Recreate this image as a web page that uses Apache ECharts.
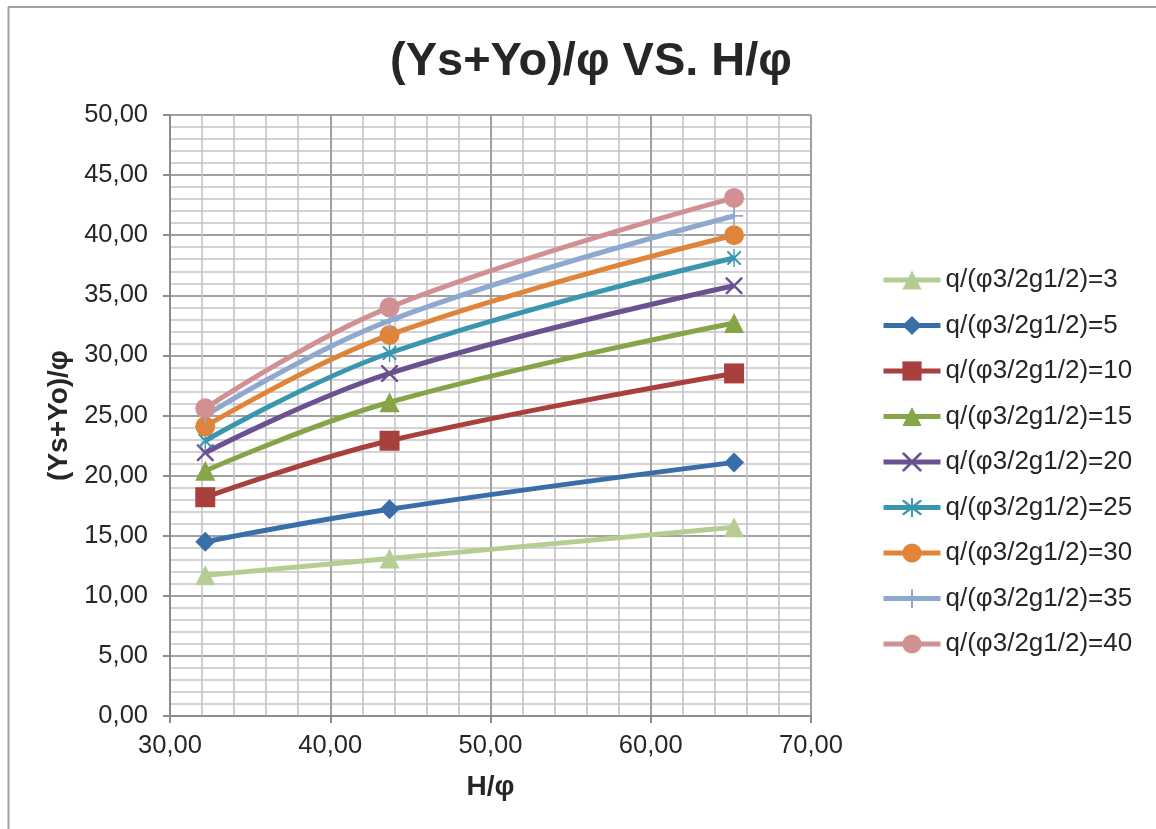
<!DOCTYPE html>
<html>
<head>
<meta charset="utf-8">
<script src="https://cdn.jsdelivr.net/npm/echarts@6/dist/echarts.min.js"></script>
<style>
  html, body { margin: 0; padding: 0; background: #fff; }
  #chart { width: 1156px; height: 829px; }
</style>
</head>
<body>
<div id="chart"></div>
<script>
// H/φ at which the three measurements were taken
const hPhi = [32.2, 43.7, 65.2];

// (Ys+Yo)/φ for each discharge parameter q/(φ3/2g1/2)
const q3  = [11.7, 13.1, 15.7];
const q5  = [14.5, 17.2, 21.1];
const q10 = [18.2, 22.9, 28.5];
const q15 = [20.4, 26.1, 32.7];
const q20 = [21.9, 28.5, 35.8];
const q25 = [22.9, 30.2, 38.1];
const q30 = [24.1, 31.7, 40.0];
const q35 = [25.0, 32.9, 41.6];
const q40 = [25.6, 34.0, 43.1];

const seriesNames = [
  'q/(φ3/2g1/2)=3', 'q/(φ3/2g1/2)=5', 'q/(φ3/2g1/2)=10',
  'q/(φ3/2g1/2)=15', 'q/(φ3/2g1/2)=20', 'q/(φ3/2g1/2)=25',
  'q/(φ3/2g1/2)=30', 'q/(φ3/2g1/2)=35', 'q/(φ3/2g1/2)=40'
];
const seriesValues = [q3, q5, q10, q15, q20, q25, q30, q35, q40];

// Marker shapes
const xMark = 'path://M0,0L2,0L10,8L18,0L20,0L20,2L12,10L20,18L20,20L18,20L10,12L2,20L0,20L0,18L8,10L0,2Z';
const starMark = 'path://M0,0L2,0L10,8L18,0L20,0L20,2L12,10L20,18L20,20L18,20L10,12L2,20L0,20L0,18L8,10L0,2Z M9,-3L11,-3L11,23L9,23Z';
const plusMark = 'path://M9,0L11,0L11,9L20,9L20,11L11,11L11,20L9,20L9,11L0,11L0,9L9,9Z';

const styles = [
  { color: '#b5cd92', symbol: 'triangle', size: 20 },
  { color: '#3a6ea8', symbol: 'diamond',  size: 20 },
  { color: '#a8403d', symbol: 'rect',     size: 20 },
  { color: '#86a548', symbol: 'triangle', size: 20 },
  { color: '#6b5190', symbol: xMark,      size: 17 },
  { color: '#3a96ae', symbol: starMark,   size: 18 },
  { color: '#e0843a', symbol: 'circle',   size: 20 },
  { color: '#8ea8cf', symbol: plusMark,   size: 18 },
  { color: '#d19192', symbol: 'circle',   size: 20 }
];

const fmt = v => v.toFixed(2).replace('.', ',');
const FONT = '"Liberation Sans", Arial, sans-serif';

const series = seriesNames.map((name, i) => ({
  name,
  type: 'line',
  smooth: 0.4,
  data: hPhi.map((x, j) => [x, seriesValues[i][j]]),
  symbol: styles[i].symbol,
  symbolSize: styles[i].size,
  symbolKeepAspect: true,
  showAllSymbol: true,
  lineStyle: { color: styles[i].color, width: 5 },
  itemStyle: { color: styles[i].color, borderWidth: 0 },
  emphasis: { disabled: true },
  z: 3 + i
}));

const chart = echarts.init(document.getElementById('chart'), null, { renderer: 'canvas' });
chart.setOption({
  animation: false,
  backgroundColor: '#ffffff',
  title: {
    text: '(Ys+Yo)/φ VS. H/φ',
    left: 586,
    top: 34,
    textAlign: 'center',
    textStyle: { fontFamily: FONT, fontSize: 47, fontWeight: 'bold', color: '#262626' }
  },
  grid: { left: 170, right: 345, top: 115, bottom: 113, containLabel: false },
  legend: {
    orient: 'vertical',
    left: 876,
    top: 262,
    itemWidth: 57,
    itemHeight: 24,
    itemGap: 19.5,
    selectedMode: false,
    lineStyle: { width: 5 },
    textStyle: { fontFamily: FONT, fontSize: 26, color: '#262626', lineHeight: 26 },
    data: seriesNames
  },
  xAxis: {
    type: 'value',
    min: 30, max: 70, interval: 10,
    name: 'H/φ',
    nameLocation: 'middle',
    nameGap: 57,
    nameTextStyle: { fontFamily: FONT, fontSize: 28, fontWeight: 'bold', color: '#262626' },
    axisLine: { show: true, onZero: false, lineStyle: { color: '#8c8c8c', width: 2 } },
    axisTick: { show: true, length: 7, lineStyle: { color: '#8c8c8c', width: 2 } },
    axisLabel: { formatter: fmt, fontFamily: FONT, fontSize: 25.5, color: '#262626', margin: 17 },
    splitLine: { show: true, lineStyle: { color: '#a0a0a0', width: 2 } },
    minorTick: { show: false, splitNumber: 5 },
    minorSplitLine: { show: true, lineStyle: { color: '#c4c4c8', width: 1.6 } }
  },
  yAxis: {
    type: 'value',
    min: 0, max: 50, interval: 5,
    name: '(Ys+Yo)/φ',
    nameLocation: 'middle',
    nameGap: 95,
    nameRotate: 90,
    nameTextStyle: { fontFamily: FONT, fontSize: 28, fontWeight: 'bold', color: '#262626' },
    axisLine: { show: true, onZero: false, lineStyle: { color: '#8c8c8c', width: 2 } },
    axisTick: { show: true, length: 7, lineStyle: { color: '#8c8c8c', width: 2 } },
    axisLabel: { formatter: fmt, fontFamily: FONT, fontSize: 25.5, color: '#262626', margin: 22 },
    splitLine: { show: true, lineStyle: { color: '#a0a0a0', width: 2 } },
    minorTick: { show: false, splitNumber: 5 },
    minorSplitLine: { show: true, lineStyle: { color: '#c4c4c8', width: 1.6 } }
  },
  graphic: [
    { type: 'line', silent: true, z: 100,
      shape: { x1: 8.5, y1: 7, x2: 8.5, y2: 829 },
      style: { stroke: '#a0a0a0', lineWidth: 2 } },
    { type: 'line', silent: true, z: 100,
      shape: { x1: 8, y1: 7, x2: 1156, y2: 7 },
      style: { stroke: '#a0a0a0', lineWidth: 2 } }
  ],
  series
});
</script>
</body>
</html>
